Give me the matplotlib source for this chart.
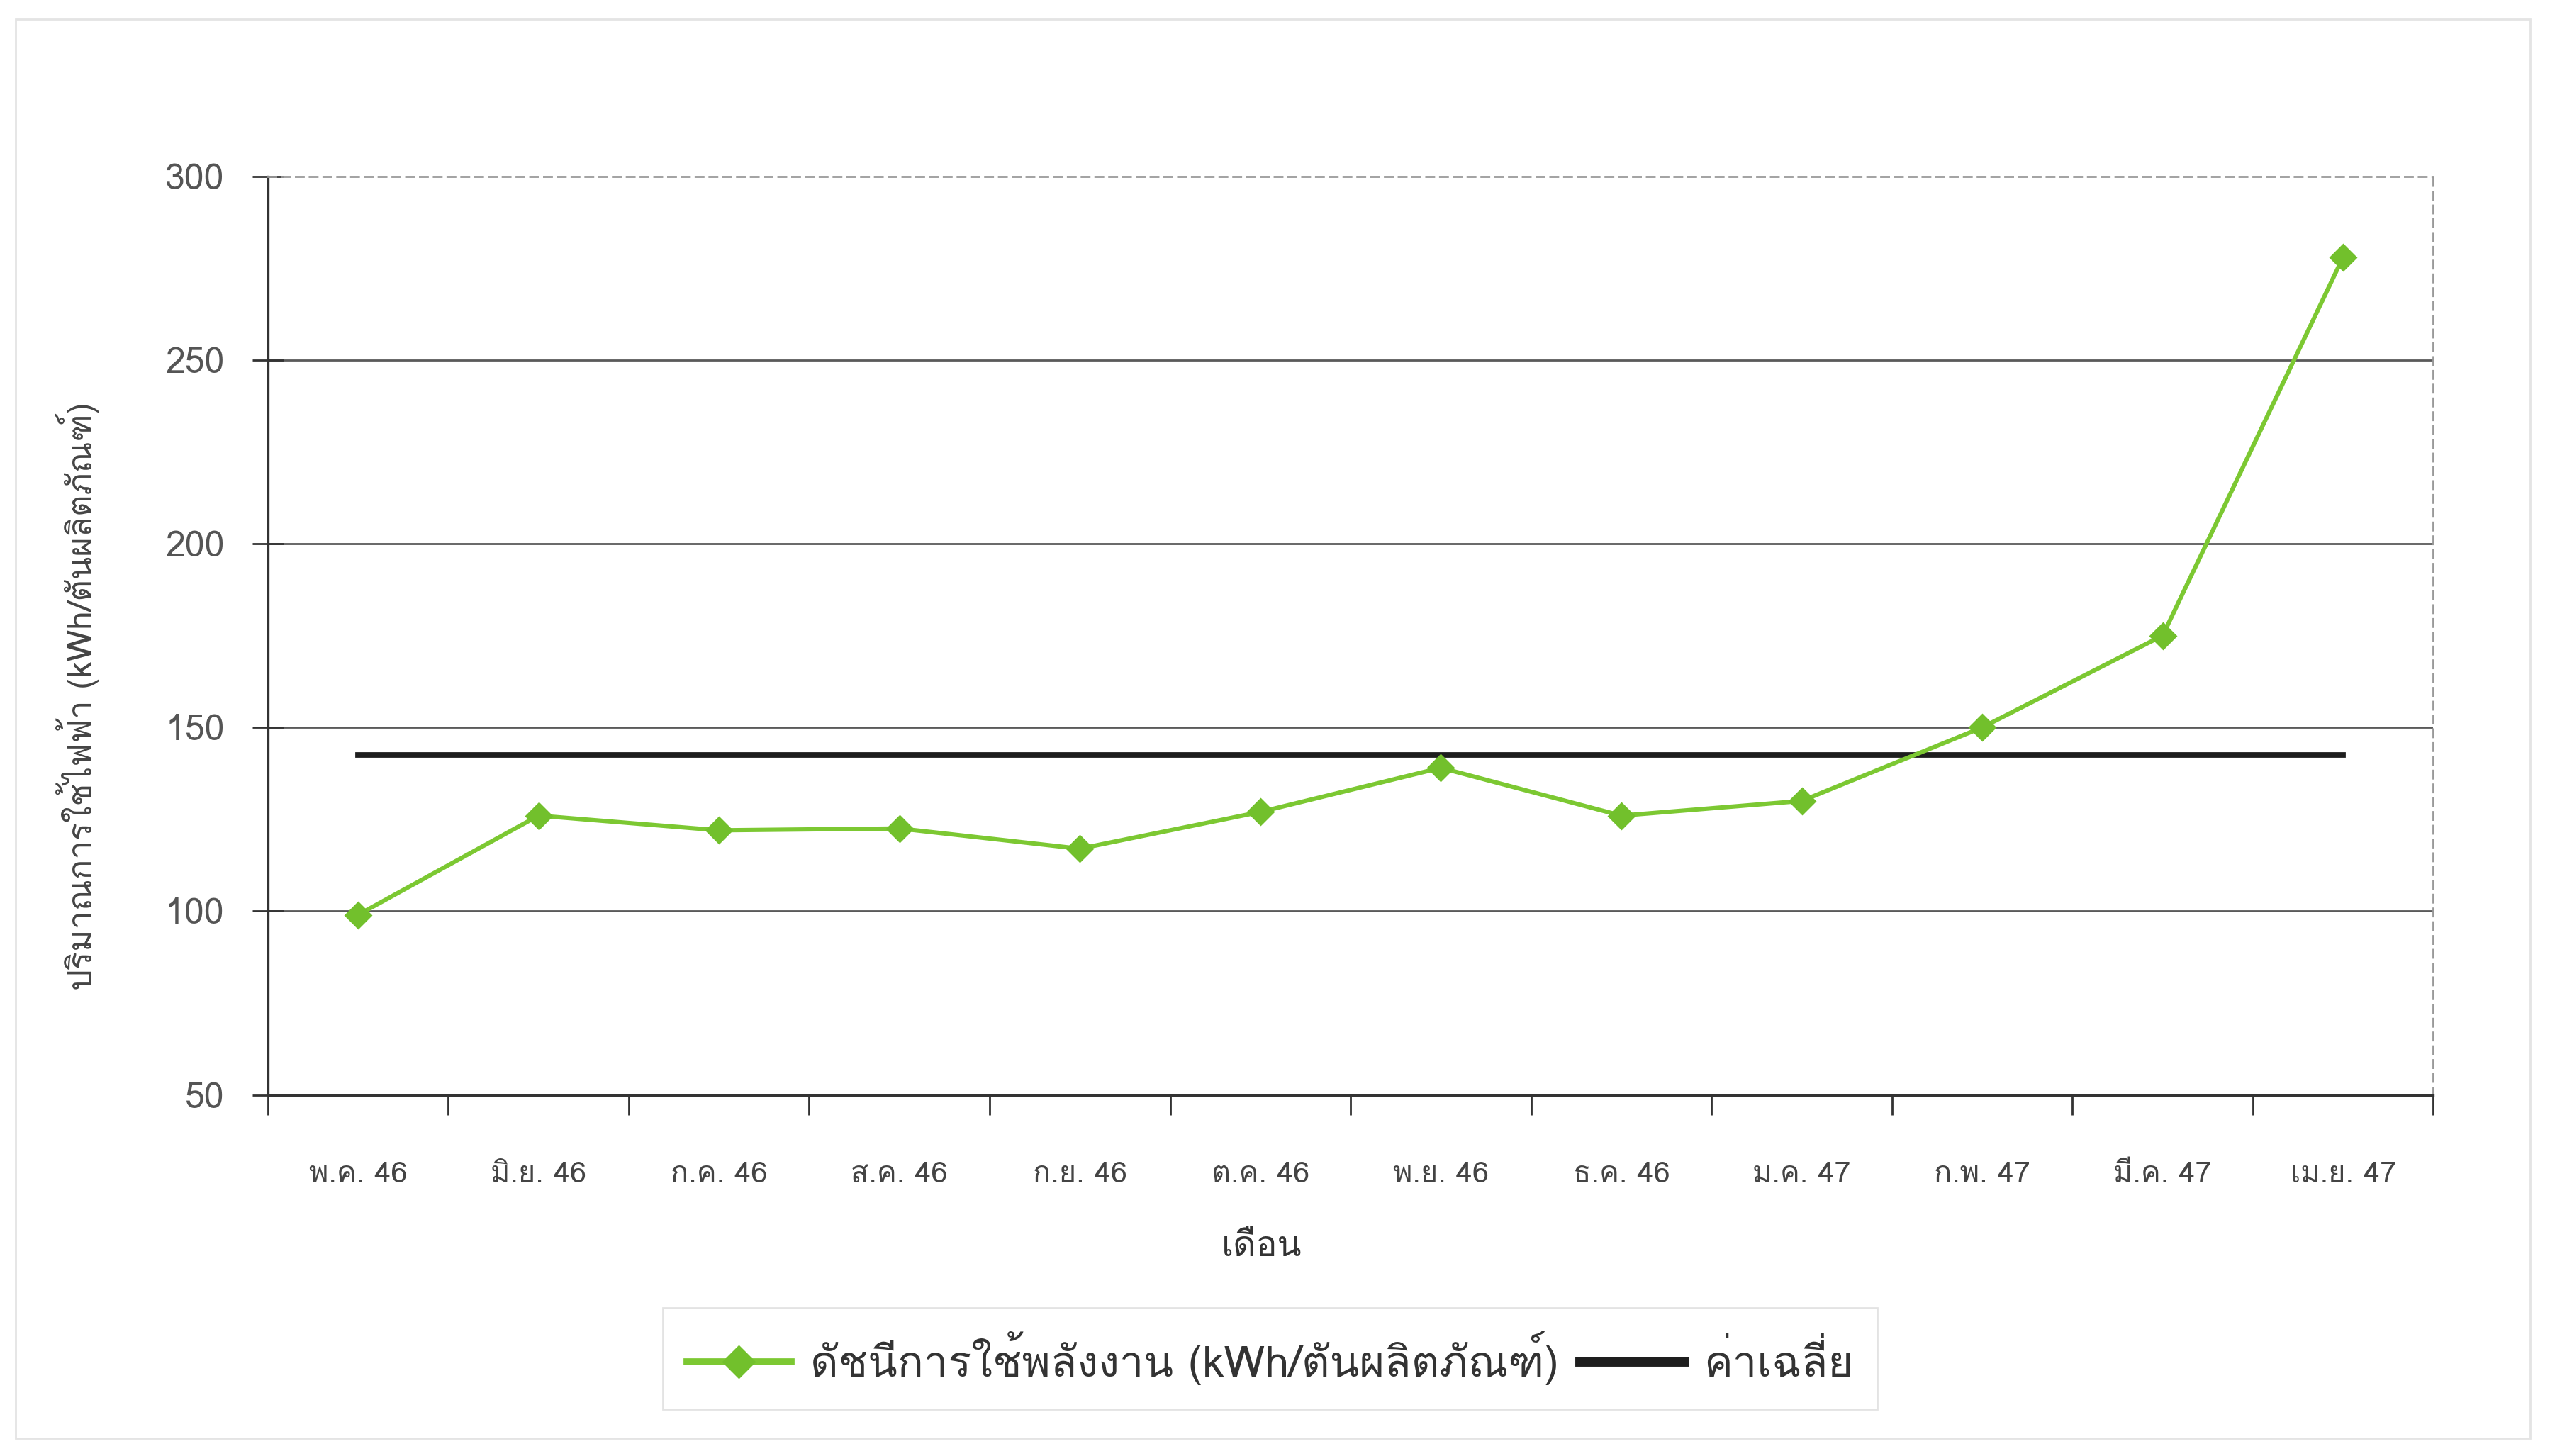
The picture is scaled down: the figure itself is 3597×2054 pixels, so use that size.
import matplotlib
matplotlib.use("Agg")
import matplotlib.pyplot as plt
from matplotlib import font_manager as fm
from matplotlib.lines import Line2D
from matplotlib.patches import Rectangle
import numpy as np

# ---------------- data ----------------
months = ["พ.ค. 46", "มิ.ย. 46", "ก.ค. 46", "ส.ค. 46", "ก.ย. 46", "ต.ค. 46",
          "พ.ย. 46", "ธ.ค. 46", "ม.ค. 47", "ก.พ. 47", "มี.ค. 47", "เม.ย. 47"]
energy_index = [99, 126, 122, 122.5, 117, 127, 139, 126, 130, 150, 175, 278]
average_value = [142.6] * len(months)
y_ticks = [50, 100, 150, 200, 250, 300]

series_label = "ดัชนีการใช้พลังงาน (kWh/ตันผลิตภัณฑ์)"
avg_label = "ค่าเฉลี่ย"
x_title = "เดือน"
y_title = "ปริมาณการใช้ไฟฟ้า (kWh/ตันผลิตภัณฑ์)"

# ---------------- font with Thai coverage ----------------
def find_thai_font():
    try:
        from fontTools.ttLib import TTFont
    except Exception:
        return None
    seen = set()
    for f in fm.fontManager.ttflist:
        if f.fname in seen:
            continue
        seen.add(f.fname)
        try:
            tt = TTFont(f.fname, fontNumber=0, lazy=True)
            cmap = tt.getBestCmap()
            if cmap and 0x0E01 in cmap:
                return f.name
        except Exception:
            pass
    return None

thai = find_thai_font()
families = ([thai] if thai else []) + ["DejaVu Sans"]
plt.rcParams["font.family"] = families

# ---------------- figure ----------------
fig = plt.figure(figsize=(17.99, 10.27), dpi=200)
fig.patch.set_facecolor("white")
fig.add_artist(Rectangle((0.006, 0.012), 0.986, 0.975, transform=fig.transFigure,
                         fill=False, edgecolor="#e4e4e4", linewidth=1.0))

ax = fig.add_axes([0.105, 0.248, 0.849, 0.631])
x = np.arange(len(months))

ax.set_xlim(-0.5, len(months) - 0.5)
ax.set_ylim(50, 300)
ax.set_yticks(y_ticks)
ax.set_yticklabels([str(v) for v in y_ticks])
for v in y_ticks[1:-1]:
    ax.axhline(v, color="#5a5a5a", linewidth=1.0, zorder=1)

ax.plot(x, average_value, color="#1e1e1e", linewidth=2.8, zorder=2, label=avg_label)
ax.plot(x, energy_index, color="#7cc832", linewidth=2.2, marker="D", markersize=9,
        markerfacecolor="#72c02c", markeredgecolor="#72c02c", zorder=3, label=series_label)

# x ticks at category boundaries, labels at centers
ax.set_xticks(np.arange(-0.5, len(months), 1.0))
ax.set_xticklabels([])
ax.set_xticks(x, minor=True)
ax.set_xticklabels(months, minor=True, fontsize=15, color="#444444")
ax.tick_params(axis="x", which="major", direction="out", length=10, width=1.0, color="#333333")
ax.tick_params(axis="x", which="minor", length=0, pad=34)
ax.tick_params(axis="y", direction="inout", length=16, width=1.0, color="#333333",
               labelsize=18, labelcolor="#555555", pad=14)

for s in ["left", "bottom"]:
    ax.spines[s].set_color("#333333")
    ax.spines[s].set_linewidth(1.2)
for s in ["top", "right"]:
    ax.spines[s].set_color("#999999")
    ax.spines[s].set_linewidth(1.0)
    ax.spines[s].set_linestyle((0, (4, 3)))

ax.set_xlabel(x_title, fontsize=18, color="#333333", labelpad=26)
ax.xaxis.set_label_coords(0.459, -0.148)
ax.set_ylabel(y_title, fontsize=17, color="#444444")
ax.yaxis.set_label_coords(-0.078, 0.434)

handles = [Line2D([0], [0], color="#7cc832", linewidth=3.5, marker="D", markersize=11,
                  markerfacecolor="#72c02c", markeredgecolor="#72c02c"),
           Line2D([0], [0], color="#1e1e1e", linewidth=5)]
leg = fig.legend(handles, [series_label, avg_label], loc="center",
                 bbox_to_anchor=(0.498, 0.067), ncol=2, fontsize=22,
                 frameon=True, fancybox=False, handlelength=2.4, columnspacing=0.5,
                 handletextpad=0.45, borderpad=0.55)
leg.get_frame().set_edgecolor("#dddddd")
leg.get_frame().set_linewidth(1.0)
for t in leg.get_texts():
    t.set_color("#333333")

fig.savefig("out.png", dpi=200, facecolor="white")
